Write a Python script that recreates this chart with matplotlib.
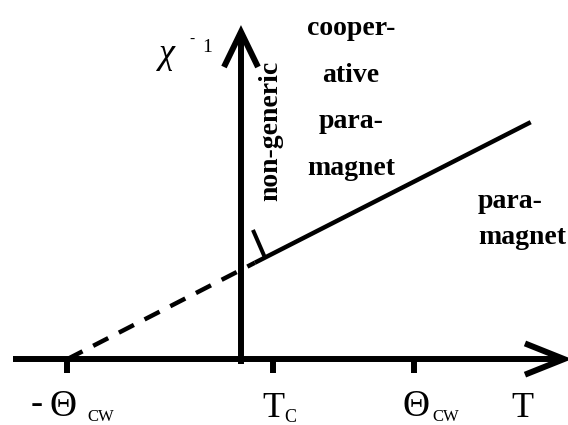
import matplotlib
matplotlib.use("Agg")
import matplotlib.pyplot as plt

# temperatures in units of the Curie-Weiss temperature
theta_cw = 1.0
t_c = 0.184
tick_positions = [-theta_cw, t_c, theta_cw]

# inverse susceptibility: extrapolated Curie-Weiss part and measured part
dashed_T = [-1.0, 0.08]
dashed_chi = [0.0, 0.555]
solid_T = [0.08, 1.67]
solid_chi = [0.555, 1.365]

# small mark where the cooperative regime ends on the line
mark_T = [0.138, 0.069]
mark_chi = [0.585, 0.744]

SERIF = "Liberation Serif"
LW_AXIS = 4.3
LW_LINE = 3.2

fig = plt.figure(figsize=(5.68, 4.25), dpi=100)
ax = fig.add_axes([0, 0, 1, 1])
ax.set_xlim(-1.389, 1.885)
ax.set_ylim(-0.380, 2.069)
ax.axis("off")


def chevron(tip_x, tip_y, dx1, dy1, dx2, dy2):
    ax.plot([tip_x + dx1, tip_x, tip_x + dx2], [tip_y + dy1, tip_y, tip_y + dy2],
            color="black", lw=LW_AXIS, solid_joinstyle="miter",
            solid_capstyle="butt")


# axes with open arrow heads
ax.plot([-1.314, 1.85], [0, 0], color="black", lw=LW_AXIS, solid_capstyle="butt")
chevron(1.862, 0.0, -0.225, 0.09, -0.225, -0.09)
ax.plot([0, 0], [-0.03, 1.87], color="black", lw=LW_AXIS, solid_capstyle="butt")
chevron(0.0, 1.885, -0.098, -0.202, 0.098, -0.202)

# ticks below the T axis
for t in tick_positions:
    ax.plot([t, t], [0, -0.081], color="black", lw=LW_AXIS, solid_capstyle="butt")

ax.plot(dashed_T, dashed_chi, color="black", lw=LW_LINE, dashes=(3.8, 2.7),
        dash_capstyle="butt")
ax.plot(solid_T, solid_chi, color="black", lw=LW_LINE, solid_capstyle="butt")
ax.plot(mark_T, mark_chi, color="black", lw=LW_LINE * 0.9, solid_capstyle="butt")


def tick_text(t, s, dx, dy, size, ha="center"):
    ax.annotate(s, xy=(t, 0), xytext=(dx, dy), textcoords="offset points",
                ha=ha, va="baseline", fontsize=size, family=SERIF)


tick_text(-theta_cw, "-", -22, -38.9, 26)
tick_text(-theta_cw, "Θ", -2.9, -41.0, 27)
tick_text(-theta_cw, "CW", 14, -44.8, 12, ha="left")
tick_text(t_c, "T", 0.7, -41.8, 26)
tick_text(t_c, "C", 8.0, -45.5, 13, ha="left")
tick_text(theta_cw, "Θ", 1.4, -41.0, 27)
tick_text(theta_cw, "CW", 12.6, -44.8, 12, ha="left")

ax.text(1.62, -0.334, "T", ha="center", va="baseline", fontsize=26, family=SERIF)

# axis label chi^-1
ax.text(-0.429, 1.706, "χ", ha="center", va="baseline", fontsize=26,
        family=SERIF, style="italic")
ax.text(-0.285, 1.844, "-", ha="center", va="center", fontsize=11, family=SERIF)
ax.text(-0.193, 1.769, "1", ha="center", va="baseline", fontsize=14, family=SERIF)

# regime labels
for y, s in zip([1.867, 1.599, 1.331, 1.063],
                ["cooper-", "ative", "para-", "magnet"]):
    ax.text(0.634, y, s, ha="center", va="baseline", fontsize=20,
            family=SERIF, weight="bold")
for y, s in zip([0.870, 0.663], ["para-", "magnet"]):
    ax.text(1.366, y, s, ha="left", va="baseline", fontsize=20,
            family=SERIF, weight="bold")
ax.text(0.173, 1.314, "non-generic", ha="center", va="center", rotation=90,
        fontsize=20, family=SERIF, weight="bold")

fig.savefig("out.png", dpi=100)
